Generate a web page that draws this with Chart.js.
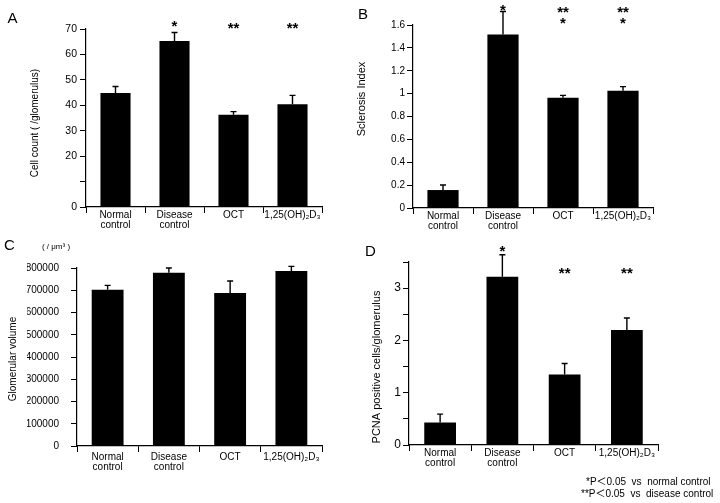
<!DOCTYPE html>
<html><head><meta charset="utf-8">
<script src="https://cdn.jsdelivr.net/npm/chart.js@4/dist/chart.umd.min.js"></script>
<style>
html,body{margin:0;padding:0;background:#fff;width:720px;height:503px;overflow:hidden}
canvas{position:absolute;left:0;top:0}
</style></head><body>
<canvas id="cA" width="720" height="503"></canvas>
<canvas id="cB" width="720" height="503"></canvas>
<canvas id="cC" width="720" height="503"></canvas>
<canvas id="cD" width="720" height="503"></canvas>
<script>
// ---- data ----
const categories = [["Normal","control"],["Disease","control"],"OCT","1,25(OH)₂D₃"];
const cellCount = [44.8, 65.3, 36.3, 40.4];
const cellCountErr = [2.6, 3.3, 1.2, 3.5];
const sclerosisIndex = [0.157, 1.518, 0.965, 1.026];
const sclerosisErr = [0.044, 0.20, 0.02, 0.035];
const glomVolume = [702600, 779000, 687600, 786500];
const glomVolumeErr = [19500, 21000, 54000, 21000];
const pcnaCells = [0.43, 3.22, 1.35, 2.20];
const pcnaErr = [0.16, 0.42, 0.21, 0.23];
const starsA = [[], ["*"], ["**"], ["**"]];
const starsB = [[], ["*"], ["**","*"], ["**","*"]];
const starsC = [[], [], [], []];
const starsD = [[], ["*"], ["**"], ["**"]];
const yTicksA = [0, 10, 20, 30, 40, 50, 60, 70];
const footnote = ["*P＜0.05  vs  normal control", "**P＜0.05  vs  disease control"];

Chart.defaults.font.family = "'Liberation Sans', Arial, sans-serif";
Chart.defaults.color = '#000';
Chart.defaults.animation = false;

const FONT = "'Liberation Sans', Arial, sans-serif";
const FONT_CJK = "'Liberation Sans', 'Noto Sans CJK JP', sans-serif";

const decor = {
  id: 'decor',
  afterDatasetsDraw(chart, args, o) {
    const ctx = chart.ctx, ca = chart.chartArea, ys = chart.scales.y;
    const meta = chart.getDatasetMeta(0);
    const vals = chart.data.datasets[0].data;
    ctx.save();
    ctx.strokeStyle = '#000'; ctx.lineWidth = 1.4;
    o.err.forEach((e, i) => {
      const bar = meta.data[i];
      const yt = ys.getPixelForValue(vals[i] + e);
      ctx.beginPath();
      ctx.moveTo(bar.x, bar.y); ctx.lineTo(bar.x, yt);
      ctx.moveTo(bar.x - 3, yt); ctx.lineTo(bar.x + 3, yt);
      ctx.stroke();
    });
    // significance stars
    ctx.fillStyle = '#000';
    ctx.font = 'bold 15px ' + FONT;
    ctx.textAlign = 'center'; ctx.textBaseline = 'alphabetic';
    o.stars.forEach((lines, i) => {
      lines.forEach((s, k) => {
        const cy = ca.top + o.starDy[i] + k * 10.7;
        ctx.fillText(s, meta.data[i].x, cy + 8.7);
      });
    });
    // texts
    (o.texts || []).forEach(t => {
      ctx.save();
      ctx.font = t.font; ctx.fillStyle = '#000';
      ctx.textAlign = t.align || 'center'; ctx.textBaseline = 'middle';
      ctx.translate(t.x, t.y);
      if (t.rot) ctx.rotate(t.rot);
      ctx.fillText(t.text, 0, 0);
      ctx.restore();
    });
    ctx.restore();
  }
};

function makePanel(id, p) {
  const YW = 50, XH = 30;
  new Chart(document.getElementById(id), {
    type: 'bar',
    data: { labels: categories, datasets: [{ data: p.values, backgroundColor: '#000', borderWidth: 0,
      barPercentage: p.barPct, categoryPercentage: 1 }] },
    options: {
      responsive: false,
      layout: { padding: { left: p.area[0] - YW, right: 720 - p.area[1], top: p.area[2], bottom: 503 - p.area[3] - XH } },
      plugins: { legend: { display: false }, tooltip: { enabled: false },
        decor: { err: p.err, stars: p.stars, starDy: p.starDy, texts: p.texts } },
      scales: {
        x: {
          afterFit(s) { s.height = XH; },
          grid: { display: true, drawOnChartArea: false, drawTicks: true, tickLength: 6, color: '#000', lineWidth: 1, offset: true },
          border: { display: true, color: '#000', width: 1.2 },
          ticks: { font: { size: 10, lineHeight: 1.0 }, padding: p.xPad, maxRotation: 0, autoSkip: false }
        },
        y: {
          min: 0, max: p.max,
          afterFit(s) { s.width = YW; },
          grid: { display: true, drawOnChartArea: false, drawTicks: true, tickLength: 6, color: '#000', lineWidth: 1 },
          border: { display: true, color: '#000', width: 1.2 },
          ticks: { stepSize: p.step, font: { size: p.yFont }, padding: p.yPad, callback: p.fmt, autoSkip: false }
        }
      }
    },
    plugins: [decor]
  });
}

makePanel('cA', {
  values: cellCount, err: cellCountErr, stars: starsA, starDy: [0, -6.3, -5, -5],
  area: [86, 322, 29, 207], max: 70, step: 10, yFont: 10.5, yPad: 3, xPad: -3, barPct: 0.51,
  fmt: v => (yTicksA.includes(v) && v !== 10) ? String(v) : '',
  texts: [
    { text: 'A', x: 12.5, y: 18.5, font: '15px ' + FONT },
    { text: 'Cell count ( /glomerulus)', x: 35, y: 123, rot: -Math.PI / 2, font: '10px ' + FONT }
  ]
});
makePanel('cB', {
  values: sclerosisIndex, err: sclerosisErr, stars: starsB, starDy: [0, -19, -16.7, -16.7],
  area: [413, 653, 25, 208], max: 1.6, step: 0.2, yFont: 10, yPad: 2, xPad: -2.5, barPct: 0.52,
  fmt: v => String(+v.toFixed(1)),
  texts: [
    { text: 'B', x: 363, y: 15, font: '15px ' + FONT },
    { text: 'Sclerosis Index', x: 362, y: 99, rot: -Math.PI / 2, font: '11px ' + FONT }
  ]
});
makePanel('cC', {
  values: glomVolume, err: glomVolumeErr, stars: starsC, starDy: [0, 0, 0, 0],
  area: [77, 322, 268, 446], max: 800000, step: 100000, yFont: 10, yPad: 12, xPad: 0, barPct: 0.52,
  fmt: v => String(v),
  texts: [
    { text: 'C', x: 9.5, y: 245.5, font: '15px ' + FONT },
    { text: '( / μm³ )', x: 56, y: 247, font: '8px ' + FONT },
    { text: 'Glomerular volume', x: 13, y: 359, rot: -Math.PI / 2, font: '10px ' + FONT }
  ]
});
makePanel('cD', {
  values: pcnaCells, err: pcnaErr, stars: starsD, starDy: [0, -15, 7.3, 7.3],
  area: [409, 658, 262, 445], max: 3.5, step: 0.5, yFont: 12, yPad: 2, xPad: -3, barPct: 0.51,
  fmt: v => Number.isInteger(v) ? String(v) : '',
  texts: [
    { text: 'D', x: 370.5, y: 252, font: '15px ' + FONT },
    { text: 'PCNA positive cells/glomerulus', x: 377, y: 367, rot: -Math.PI / 2, font: '11px ' + FONT },
    { text: footnote[0], x: 586, y: 482.5, align: 'left', font: '10px ' + FONT_CJK },
    { text: footnote[1], x: 581, y: 494, align: 'left', font: '10px ' + FONT_CJK }
  ]
});
</script>
</body></html>
